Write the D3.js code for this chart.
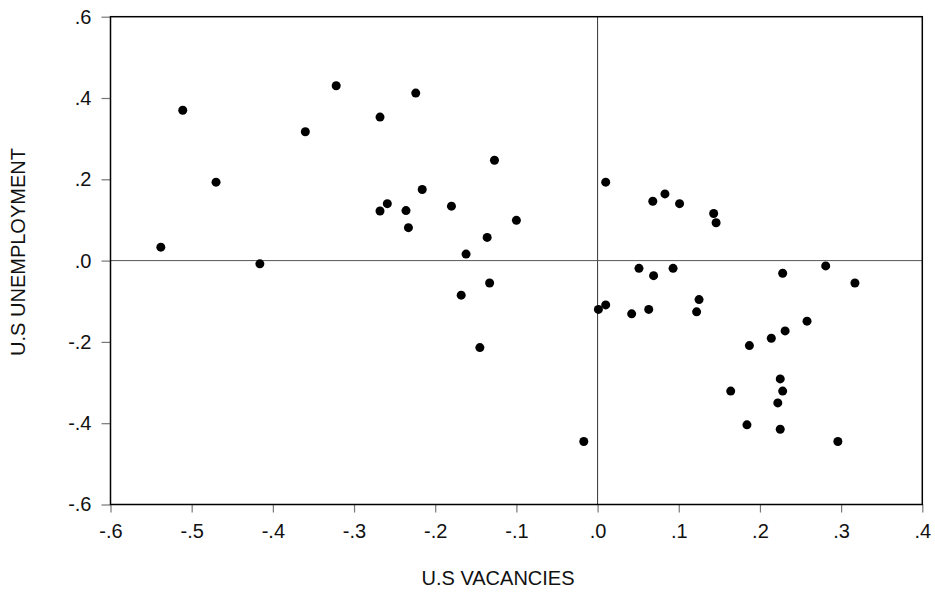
<!DOCTYPE html>
<html>
<head>
<meta charset="utf-8">
<script src="https://cdn.jsdelivr.net/npm/d3@7"></script>
<style>
  html, body { margin: 0; padding: 0; background: #fff; }
  svg { display: block; font-family: "Liberation Sans", Arial, sans-serif; }
</style>
</head>
<body>
<svg id="chart" width="935" height="601"></svg>
<script>
// vacancies (x) and unemployment (y)
const vacancies = [
  -0.538, -0.511, -0.470, -0.416, -0.360, -0.322, -0.268, -0.268, -0.259,
  -0.224, -0.127, -0.216, -0.236, -0.233, -0.180, -0.100, -0.136, -0.162,
  -0.133, -0.168, -0.145, -0.017,
  0.010, 0.010, 0.001, 0.068, 0.083, 0.101, 0.143, 0.146, 0.051, 0.069,
  0.093, 0.228, 0.281, 0.317, 0.042, 0.063, 0.125, 0.122, 0.258, 0.231,
  0.214, 0.187, 0.225, 0.228, 0.164, 0.222, 0.184, 0.225, 0.296
];
const unemployment = [
  0.033, 0.370, 0.193, -0.008, 0.317, 0.430, 0.353, 0.122, 0.140,
  0.412, 0.247, 0.175, 0.123, 0.081, 0.134, 0.099, 0.057, 0.016,
  -0.055, -0.085, -0.214, -0.445,
  0.193, -0.109, -0.120, 0.146, 0.164, 0.140, 0.116, 0.093, -0.019, -0.037,
  -0.019, -0.031, -0.013, -0.055, -0.131, -0.120, -0.096, -0.126, -0.149, -0.173,
  -0.191, -0.209, -0.291, -0.321, -0.321, -0.350, -0.404, -0.415, -0.445
];
const xTicks = [-0.6, -0.5, -0.4, -0.3, -0.2, -0.1, 0, 0.1, 0.2, 0.3, 0.4];
const yTicks = [-0.6, -0.4, -0.2, 0, 0.2, 0.4, 0.6];

const points = vacancies.map((v, i) => ({ x: v, y: unemployment[i] }));

const svg = d3.select('#chart');
const plotLeft = 110.5, plotRight = 922.3, plotTop = 16.7, plotBottom = 504.5;

const x = d3.scaleLinear().domain([-0.6, 0.4]).range([plotLeft, plotRight]);
const y = d3.scaleLinear().domain([-0.6, 0.6]).range([plotBottom, plotTop]);

// strip the leading zero the way the source does: -.5, .0, .3
const fmt = v => {
  const s = (Math.abs(v) < 1e-9 ? 0 : v).toFixed(1);
  return s.replace(/^(-?)0\./, '$1.');
};

// zero reference lines
svg.append('line')
  .attr('x1', x(0)).attr('x2', x(0)).attr('y1', plotTop).attr('y2', plotBottom)
  .attr('stroke', '#333').attr('stroke-width', 1);
svg.append('line')
  .attr('x1', plotLeft).attr('x2', plotRight).attr('y1', y(0)).attr('y2', y(0))
  .attr('stroke', '#555').attr('stroke-width', 1);

// axes
const xAxis = svg.append('g')
  .attr('transform', `translate(0,${plotBottom})`)
  .call(d3.axisBottom(x).tickValues(xTicks).tickFormat(fmt).tickSize(8).tickPadding(11));
const yAxis = svg.append('g')
  .attr('transform', `translate(${plotLeft},0)`)
  .call(d3.axisLeft(y).tickValues(yTicks).tickFormat(fmt).tickSize(9).tickPadding(10));

[xAxis, yAxis].forEach(g => {
  g.select('.domain').remove();
  g.selectAll('.tick line').attr('stroke', '#777').attr('stroke-width', 1.2);
  g.selectAll('.tick text')
    .attr('fill', '#111')
    .style('font-size', '20px')
    .style('font-family', '"Liberation Sans", Arial, sans-serif');
});

// frame
svg.append('rect')
  .attr('x', plotLeft).attr('y', plotTop)
  .attr('width', plotRight - plotLeft).attr('height', plotBottom - plotTop)
  .attr('fill', 'none').attr('stroke', '#000').attr('stroke-width', 1.5);

// dots
svg.append('g')
  .selectAll('circle')
  .data(points)
  .enter()
  .append('circle')
  .attr('cx', d => x(d.x))
  .attr('cy', d => y(d.y))
  .attr('r', 4.5)
  .attr('fill', '#000');

// axis titles
svg.append('text')
  .attr('x', 498).attr('y', 585)
  .attr('text-anchor', 'middle')
  .style('font-size', '20px')
  .attr('fill', '#111')
  .text('U.S VACANCIES');

svg.append('text')
  .attr('transform', 'translate(25,252) rotate(-90)')
  .attr('text-anchor', 'middle')
  .style('font-size', '20px')
  .attr('fill', '#111')
  .text('U.S UNEMPLOYMENT');
</script>
</body>
</html>
